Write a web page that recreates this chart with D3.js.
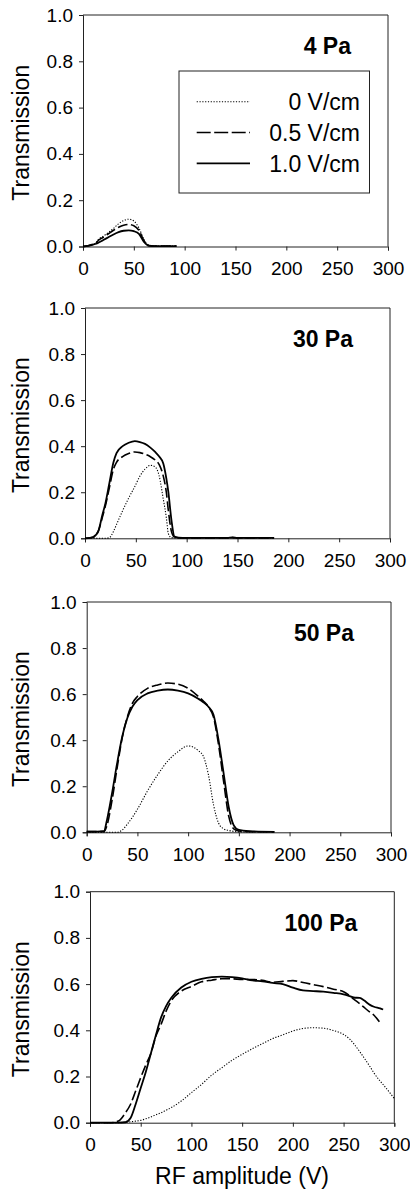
<!DOCTYPE html>
<html>
<head>
<meta charset="utf-8">
<script src="https://cdn.jsdelivr.net/npm/d3@7"></script>
<style>
  body { margin: 0; background: #fff; }
  svg { display: block; }
  text { font-family: "Liberation Sans", Arial, sans-serif; fill: #000; }
</style>
</head>
<body>
<svg id="chart" width="410" height="1200"></svg>
<script>
// ── Data ──────────────────────────────────────────────────────
const pressures = ["4 Pa", "30 Pa", "50 Pa", "100 Pa"];
const fieldLabels = ["0 V/cm", "0.5 V/cm", "1.0 V/cm"];
const xTicks = [0, 50, 100, 150, 200, 250, 300];
const yTicks = [0, 0.2, 0.4, 0.6, 0.8, 1.0];

// 4 Pa
const x4 = [0, 5, 10, 13, 15, 20, 25, 30, 35, 40, 45, 50, 55, 60, 65, 70, 80, 92];
const t4_0 = [0, 0.003, 0.01, 0.018, 0.03, 0.045, 0.06, 0.078, 0.098, 0.112, 0.118, 0.11, 0.08, 0.03, 0.005, 0.002, 0.002, 0.002];
const t4_05 = [0, 0.003, 0.01, 0.016, 0.026, 0.04, 0.055, 0.07, 0.083, 0.092, 0.095, 0.09, 0.07, 0.025, 0.004, 0.002, 0.002, 0.002];
const t4_10 = [0, 0.003, 0.008, 0.012, 0.016, 0.028, 0.04, 0.052, 0.062, 0.068, 0.07, 0.066, 0.055, 0.02, 0.003, 0.002, 0.002, 0.002];

// 30 Pa
const x30 = [0, 5, 8, 13, 17, 20, 24, 28, 31, 37, 43, 49, 54, 59, 64, 69, 73, 77, 80, 82, 85, 88, 92, 100, 140, 145, 150, 186];
const t30_0 = [0, 0, 0, 0, 0, 0, 0.003, 0.03, 0.06, 0.12, 0.175, 0.225, 0.27, 0.3, 0.317, 0.31, 0.27, 0.17, 0.09, 0.02, 0.003, 0.002, 0.002, 0.002, 0.002, 0.002, 0.002, 0.002];
const t30_05 = [0, 0.002, 0.005, 0.03, 0.09, 0.14, 0.22, 0.3, 0.33, 0.355, 0.368, 0.375, 0.372, 0.365, 0.355, 0.34, 0.32, 0.27, 0.2, 0.12, 0.03, 0.005, 0.002, 0.002, 0.002, 0.003, 0.002, 0.002];
const t30_10 = [0, 0.002, 0.005, 0.03, 0.1, 0.15, 0.24, 0.33, 0.37, 0.4, 0.415, 0.422, 0.418, 0.41, 0.395, 0.375, 0.355, 0.325, 0.26, 0.2, 0.08, 0.007, 0.003, 0.002, 0.002, 0.004, 0.002, 0.002];

// 50 Pa
const x50 = [0, 10, 17, 20, 25, 30, 35, 40, 45, 50, 60, 70, 80, 90, 100, 110, 115, 120, 125, 130, 135, 140, 145, 150, 160, 185];
const t50_0 = [0, 0, 0, 0, 0, 0, 0.01, 0.035, 0.065, 0.1, 0.18, 0.25, 0.31, 0.35, 0.375, 0.355, 0.33, 0.25, 0.12, 0.04, 0.015, 0.008, 0.004, 0.002, 0.002, 0.002];
const t50_05 = [0.003, 0.003, 0.003, 0.03, 0.14, 0.28, 0.41, 0.5, 0.56, 0.59, 0.625, 0.64, 0.648, 0.643, 0.625, 0.59, 0.57, 0.545, 0.5, 0.38, 0.22, 0.07, 0.015, 0.006, 0.003, 0.002];
const t50_10 = [0.003, 0.003, 0.005, 0.054, 0.17, 0.3, 0.415, 0.495, 0.545, 0.574, 0.603, 0.615, 0.62, 0.615, 0.603, 0.58, 0.565, 0.545, 0.51, 0.4, 0.256, 0.11, 0.03, 0.01, 0.005, 0.002];

// 100 Pa
const x100 = [0, 20, 28, 35, 40, 45, 50, 55, 60, 65, 70, 75, 80, 90, 100, 110, 120, 130, 140, 150, 160, 170, 180, 190, 200, 210, 220, 230, 240, 250, 256, 260, 266, 270, 276, 280, 286, 289, 300];
const t100_0 = [0, 0, 0, 0.002, 0.004, 0.007, 0.01, 0.017, 0.025, 0.034, 0.043, 0.054, 0.065, 0.094, 0.13, 0.166, 0.206, 0.238, 0.27, 0.296, 0.32, 0.342, 0.364, 0.38, 0.397, 0.408, 0.411, 0.409, 0.399, 0.382, 0.362, 0.342, 0.307, 0.282, 0.243, 0.215, 0.18, 0.165, 0.105];
const t100_05 = [0, 0, 0.007, 0.043, 0.08, 0.137, 0.195, 0.25, 0.3, 0.375, 0.425, 0.483, 0.527, 0.57, 0.59, 0.61, 0.617, 0.623, 0.623, 0.62, 0.62, 0.616, 0.608, 0.612, 0.615, 0.607, 0.598, 0.589, 0.578, 0.567, 0.55, 0.535, 0.515, 0.5, 0.478, 0.465, 0.433, null, null];
const t100_10 = [0, 0, 0, 0.002, 0.02, 0.08, 0.15, 0.22, 0.3, 0.38, 0.455, 0.505, 0.54, 0.585, 0.61, 0.623, 0.63, 0.632, 0.63, 0.625, 0.616, 0.612, 0.605, 0.6, 0.585, 0.573, 0.57, 0.567, 0.562, 0.556, 0.548, 0.542, 0.54, 0.53, 0.51, 0.502, 0.495, 0.49, null];

const panelData = [
  { x: x4,   series: [t4_0,   t4_05,   t4_10] },
  { x: x30,  series: [t30_0,  t30_05,  t30_10] },
  { x: x50,  series: [t50_0,  t50_05,  t50_10] },
  { x: x100, series: [t100_0, t100_05, t100_10] }
];

// ── Layout: plot frames (the scan drifts a little to the right) ──
const frames = [
  { left: 83,   right: 388,   top: 15,    bottom: 246.5 },
  { left: 85,   right: 390,   top: 308,   bottom: 538.3 },
  { left: 86.7, right: 391,   top: 602,   bottom: 832.3 },
  { left: 90,   right: 394.3, top: 891.7, bottom: 1122.7 }
];

// line styles: dotted, dashed, solid
const styles = [
  { dash: "1.2,1.6", width: 1.1 },
  { dash: "10,3.5",  width: 1.6 },
  { dash: null,      width: 1.8 }
];

const svg = d3.select("#chart");

frames.forEach((f, i) => {
  const xScale = d3.scaleLinear().domain([0, 300]).range([f.left, f.right]);
  const yScale = d3.scaleLinear().domain([0, 1]).range([f.bottom, f.top]);
  const g = svg.append("g");

  // frame top/right
  g.append("path")
    .attr("d", `M${f.left},${f.top}H${f.right}V${f.bottom}`)
    .attr("fill", "none").attr("stroke", "#222").attr("stroke-width", 1);

  // axes
  g.append("g")
    .attr("transform", `translate(0,${f.bottom})`)
    .call(d3.axisBottom(xScale).tickValues(xTicks).tickSize(4).tickPadding(11).tickFormat(d3.format("d")))
    .call(ax => ax.selectAll("path,line").attr("stroke", "#222"))
    .call(ax => ax.selectAll("text").attr("font-size", 19).attr("font-family", "Liberation Sans, Arial, sans-serif"));

  g.append("g")
    .attr("transform", `translate(${f.left},0)`)
    .call(d3.axisLeft(yScale).tickValues(yTicks).tickSize(4).tickPadding(6).tickFormat(d3.format(".1f")))
    .call(ax => ax.selectAll("path,line").attr("stroke", "#222"))
    .call(ax => ax.selectAll("text").attr("font-size", 19).attr("font-family", "Liberation Sans, Arial, sans-serif"));

  // y title
  g.append("text")
    .attr("transform", `translate(29,${(f.top + f.bottom) / 2 + 2}) rotate(-90)`)
    .attr("text-anchor", "middle")
    .attr("font-size", 23)
    .text("Transmission");

  // pressure label
  g.append("text")
    .attr("x", f.right - 37).attr("y", f.top + 39)
    .attr("text-anchor", "end")
    .attr("font-size", 23).attr("font-weight", "bold")
    .text(pressures[i]);

  // curves
  const pd = panelData[i];
  pd.series.forEach((vals, s) => {
    const pts = pd.x.map((x, k) => [x, vals[k]]).filter(p => p[1] != null);
    const line = d3.line()
      .x(p => xScale(p[0])).y(p => yScale(p[1]))
      .curve(d3.curveMonotoneX);
    g.append("path")
      .attr("d", line(pts))
      .attr("fill", "none")
      .attr("stroke", "#000")
      .attr("stroke-width", styles[s].width)
      .attr("stroke-dasharray", styles[s].dash);
  });
});

// ── Legend (first panel) ─────────────────────────────────────
const lg = svg.append("g");
lg.append("rect")
  .attr("x", 179).attr("y", 71).attr("width", 190.5).attr("height", 122)
  .attr("fill", "#fff").attr("stroke", "#222").attr("stroke-width", 1);

const legendDash = ["1.2,1.6", "14,3.5", null];
fieldLabels.forEach((lab, i) => {
  const yy = 101.7 + i * 30.8;
  lg.append("line")
    .attr("x1", 196.7).attr("x2", 250).attr("y1", yy).attr("y2", yy)
    .attr("stroke", "#000").attr("stroke-width", styles[i].width)
    .attr("stroke-dasharray", legendDash[i]);
  lg.append("text")
    .attr("x", 360).attr("y", yy + 8.5)
    .attr("text-anchor", "end").attr("font-size", 23)
    .text(lab);
});

// x title
svg.append("text")
  .attr("x", 242).attr("y", 1184)
  .attr("text-anchor", "middle").attr("font-size", 23)
  .text("RF amplitude (V)");
</script>
</body>
</html>
